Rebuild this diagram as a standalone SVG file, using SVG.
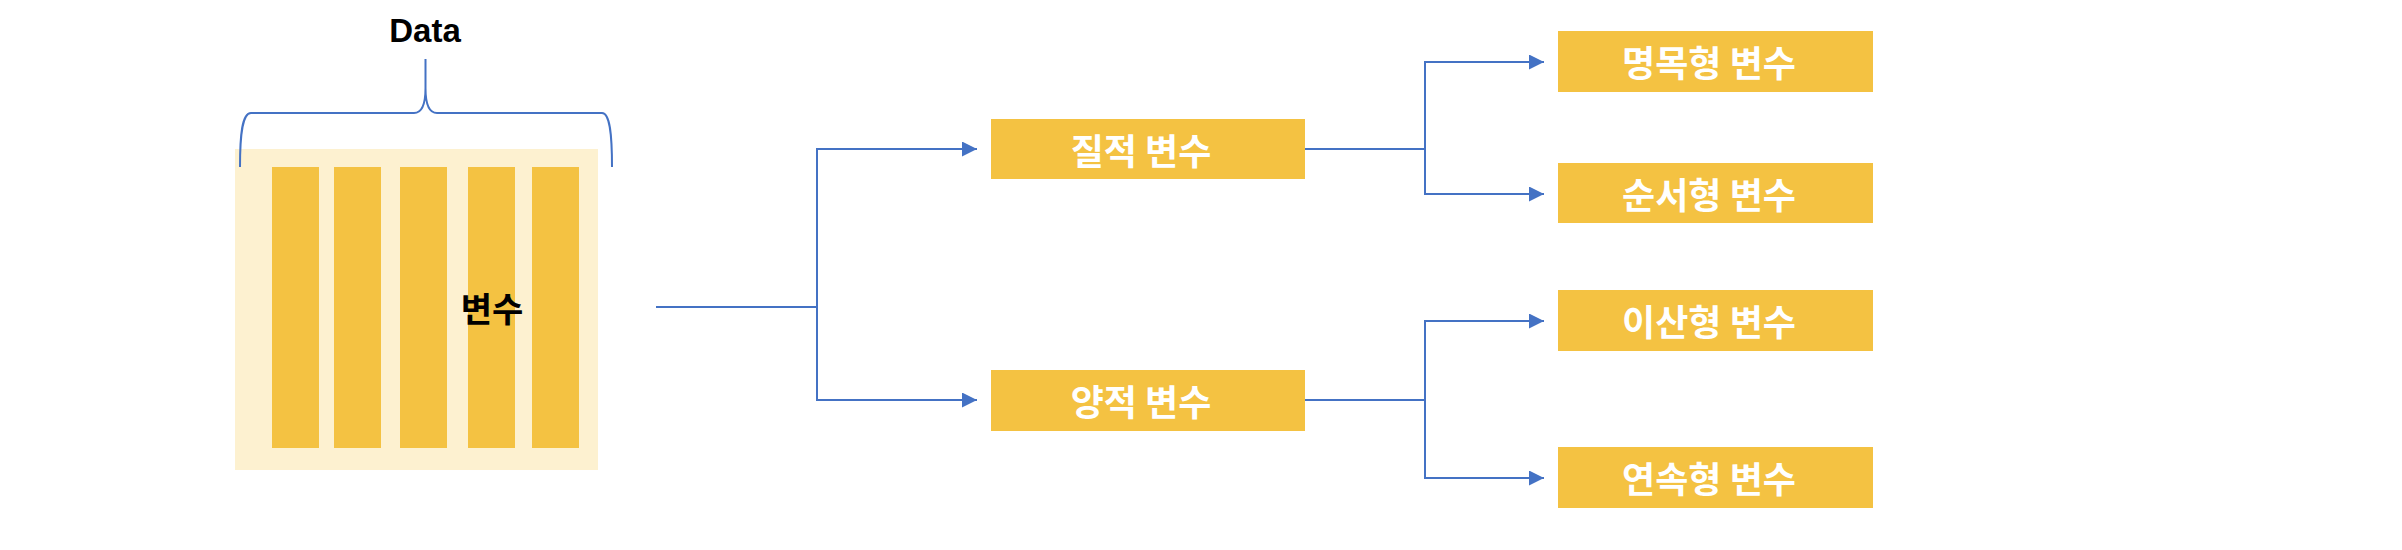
<svg xmlns="http://www.w3.org/2000/svg" width="2402" height="550" viewBox="0 0 2402 550">
  <style>
    .bg { fill: #FDF1D0; }
    .bar { fill: #F4C242; }
    .box { fill: #F4C242; }
    .lbl { font-family: "Noto Sans CJK KR", "Noto Sans", sans-serif; font-weight: bold; font-size: 36px; fill: #FFFFFF; text-anchor: middle; dominant-baseline: central; }
    .dark { font-family: "Noto Sans CJK KR", "Noto Sans", sans-serif; font-weight: bold; font-size: 34px; fill: #000000; text-anchor: middle; dominant-baseline: central; }
    .title { font-family: "Liberation Sans", Arial, sans-serif; font-weight: bold; font-size: 33px; fill: #000000; text-anchor: middle; }
    .conn { fill: none; stroke: #4472C4; stroke-width: 2; }
  </style>
  <defs>
    <marker id="arrow" markerUnits="userSpaceOnUse" markerWidth="15" markerHeight="15" refX="15" refY="7.5" orient="auto">
      <path d="M0,0 L15,7.5 L0,15 z" fill="#4472C4"/>
    </marker>
  </defs>
  <rect width="2402" height="550" fill="#FFFFFF"/>

  <g id="data">
    <text class="title" x="425" y="42">Data</text>
    <rect class="bg" x="235" y="149" width="363" height="321"/>
    <rect class="bar" x="272" y="167" width="47" height="281"/>
    <rect class="bar" x="334" y="167" width="47" height="281"/>
    <rect class="bar" x="400" y="167" width="47" height="281"/>
    <rect class="bar" x="468" y="167" width="47" height="281"/>
    <rect class="bar" x="532" y="167" width="47" height="281"/>
    <text class="dark" x="492" y="307">변수</text>
  </g>

  <g id="n-qual">
    <rect class="box" x="991" y="119" width="314" height="60"/>
    <text class="lbl" x="1141" y="149">질적 변수</text>
  </g>
  <g id="n-quant">
    <rect class="box" x="991" y="370" width="314" height="61"/>
    <text class="lbl" x="1141" y="400">양적 변수</text>
  </g>
  <g id="n-nominal">
    <rect class="box" x="1558" y="31" width="315" height="61"/>
    <text class="lbl" x="1709" y="61">명목형 변수</text>
  </g>
  <g id="n-ordinal">
    <rect class="box" x="1558" y="163" width="315" height="60"/>
    <text class="lbl" x="1709" y="193">순서형 변수</text>
  </g>
  <g id="n-discrete">
    <rect class="box" x="1558" y="290" width="315" height="61"/>
    <text class="lbl" x="1709" y="320">이산형 변수</text>
  </g>
  <g id="n-continuous">
    <rect class="box" x="1558" y="447" width="315" height="61"/>
    <text class="lbl" x="1709" y="477">연속형 변수</text>
  </g>

  <g id="connectors">
    <path class="conn" d="M240,167 C240,135 242,113 251,113 L414,113 C421,113 425.5,106 425.5,88 L425.5,59 M425.5,88 C425.5,106 430,113 437,113 L602,113 C610,113 612,135 612,167"/>
    <path class="conn" d="M656,307 L817,307"/>
    <path class="conn" d="M817,307 L817,149 L977,149" marker-end="url(#arrow)"/>
    <path class="conn" d="M817,307 L817,400 L977,400" marker-end="url(#arrow)"/>
    <path class="conn" d="M1305,149 L1425,149"/>
    <path class="conn" d="M1425,149 L1425,62 L1544,62" marker-end="url(#arrow)"/>
    <path class="conn" d="M1425,149 L1425,194 L1544,194" marker-end="url(#arrow)"/>
    <path class="conn" d="M1305,400 L1425,400"/>
    <path class="conn" d="M1425,400 L1425,321 L1544,321" marker-end="url(#arrow)"/>
    <path class="conn" d="M1425,400 L1425,478 L1544,478" marker-end="url(#arrow)"/>
  </g>
</svg>
